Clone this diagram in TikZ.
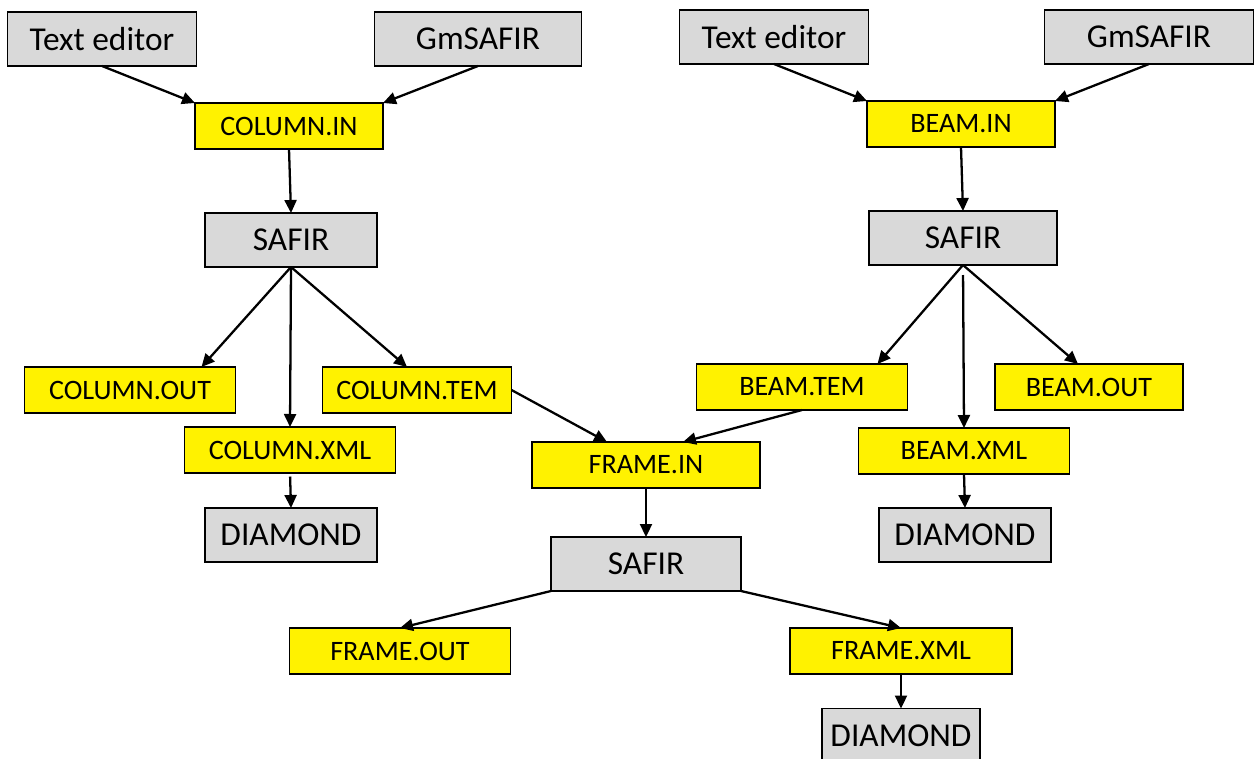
\documentclass[tikz,border=0pt]{standalone}
\usepackage{fontspec}
\setmainfont{Carlito}
\usetikzlibrary{arrows.meta}
\definecolor{progfill}{HTML}{D9D9D9}
\tikzset{
  prog/.style={draw, fill=progfill, line width=0.8pt, inner sep=0pt, outer sep=0pt, minimum height=1.08cm, font=\fontsize{19}{22}\selectfont},
  datafile/.style={draw, fill=yellow, line width=0.8pt, inner sep=0pt, outer sep=0pt, minimum height=0.92cm, font=\fontsize{16}{19}\selectfont},
  flow/.style={-{Triangle[length=0.26cm,width=0.24cm]}, line width=1.3pt}
}
\begin{document}
\begin{tikzpicture}
\useasboundingbox (0,0) rectangle (25.16,-15.18);

\foreach \name/\txt/\x/\y/\w in {te1/Text editor/2.04/-0.78/3.78, gm1/GmSAFIR/9.56/-0.78/4.14, safA/SAFIR/5.82/-4.80/3.44, diaA/DIAMOND/5.82/-10.70/3.44}{
    \node[prog, minimum width=\w cm] (\name) at (\x,\y) {\txt};
}

\foreach \name/\txt/\x/\y/\w in {te2/Text editor/15.48/-0.74/3.78, gm2/GmSAFIR/22.98/-0.74/4.18, safB/SAFIR/19.26/-4.76/3.76, diaB/DIAMOND/19.30/-10.70/3.44}{
    \node[prog, minimum width=\w cm] (\name) at (\x,\y) {\txt};
}

\foreach \name/\txt/\x/\y/\w in {safC/SAFIR/12.92/-11.28/3.80, diaC/DIAMOND/18.02/-14.71/3.16}{
    \node[prog, minimum width=\w cm] (\name) at (\x,\y) {\txt};
}

\foreach \name/\txt/\x/\y/\w in {colin/COLUMN.IN/5.78/-2.52/3.76, colout/COLUMN.OUT/2.60/-7.80/4.22, colxml/COLUMN.XML/5.80/-9.00/4.22, coltem/COLUMN.TEM/8.34/-7.80/3.78}{
    \node[datafile, minimum width=\w cm] (\name) at (\x,\y) {\txt};
}

\foreach \name/\txt/\x/\y/\w in {beamin/BEAM.IN/19.22/-2.48/3.76, beamtem/BEAM.TEM/16.04/-7.74/4.22, beamout/BEAM.OUT/21.78/-7.74/3.76, beamxml/BEAM.XML/19.28/-9.02/4.22}{
    \node[datafile, minimum width=\w cm] (\name) at (\x,\y) {\txt};
}

\foreach \name/\txt/\x/\y/\w in {framein/FRAME.IN/12.92/-9.30/4.56, frameout/FRAME.OUT/8.00/-13.02/4.42, framexml/FRAME.XML/18.02/-13.02/4.44}{
    \node[datafile, minimum width=\w cm] (\name) at (\x,\y) {\txt};
}

\draw[flow] (te1.south) -- (colin.north west);
\draw[flow] (gm1.south) -- (colin.north east);
\draw[flow] (colin.south) -- (safA.north);
\draw[flow] (safA.south) -- ([xshift=-0.68cm]colout.north east);
\draw[flow] (safA.south) -- (colxml.north);
\draw[flow] (safA.south) -- ([xshift=-0.2cm]coltem.north);
\draw[flow, shorten <=2pt] (colxml.south) -- (diaA.north);
\draw[flow] (coltem.east) -- ([xshift=-0.78cm]framein.north);

\draw[flow] (te2.south) -- (beamin.north west);
\draw[flow] (gm2.south) -- (beamin.north east);
\draw[flow] (beamin.south) -- (safB.north);
\draw[flow] (safB.south) -- ([xshift=-0.6cm]beamtem.north east);
\draw[flow, shorten <=0.2cm] (safB.south) -- (beamxml.north);
\draw[flow] (safB.south) -- ([xshift=-0.22cm]beamout.north);
\draw[flow] (beamxml.south) -- (diaB.north);
\draw[flow] (beamtem.south) -- ([xshift=0.74cm]framein.north);

\draw[flow] (framein.south) -- (safC.north);
\draw[flow] (safC.south west) -- (frameout.north);
\draw[flow] (safC.south east) -- (framexml.north);
\draw[flow] (framexml.south) -- (diaC.north);

\end{tikzpicture}
\end{document}
